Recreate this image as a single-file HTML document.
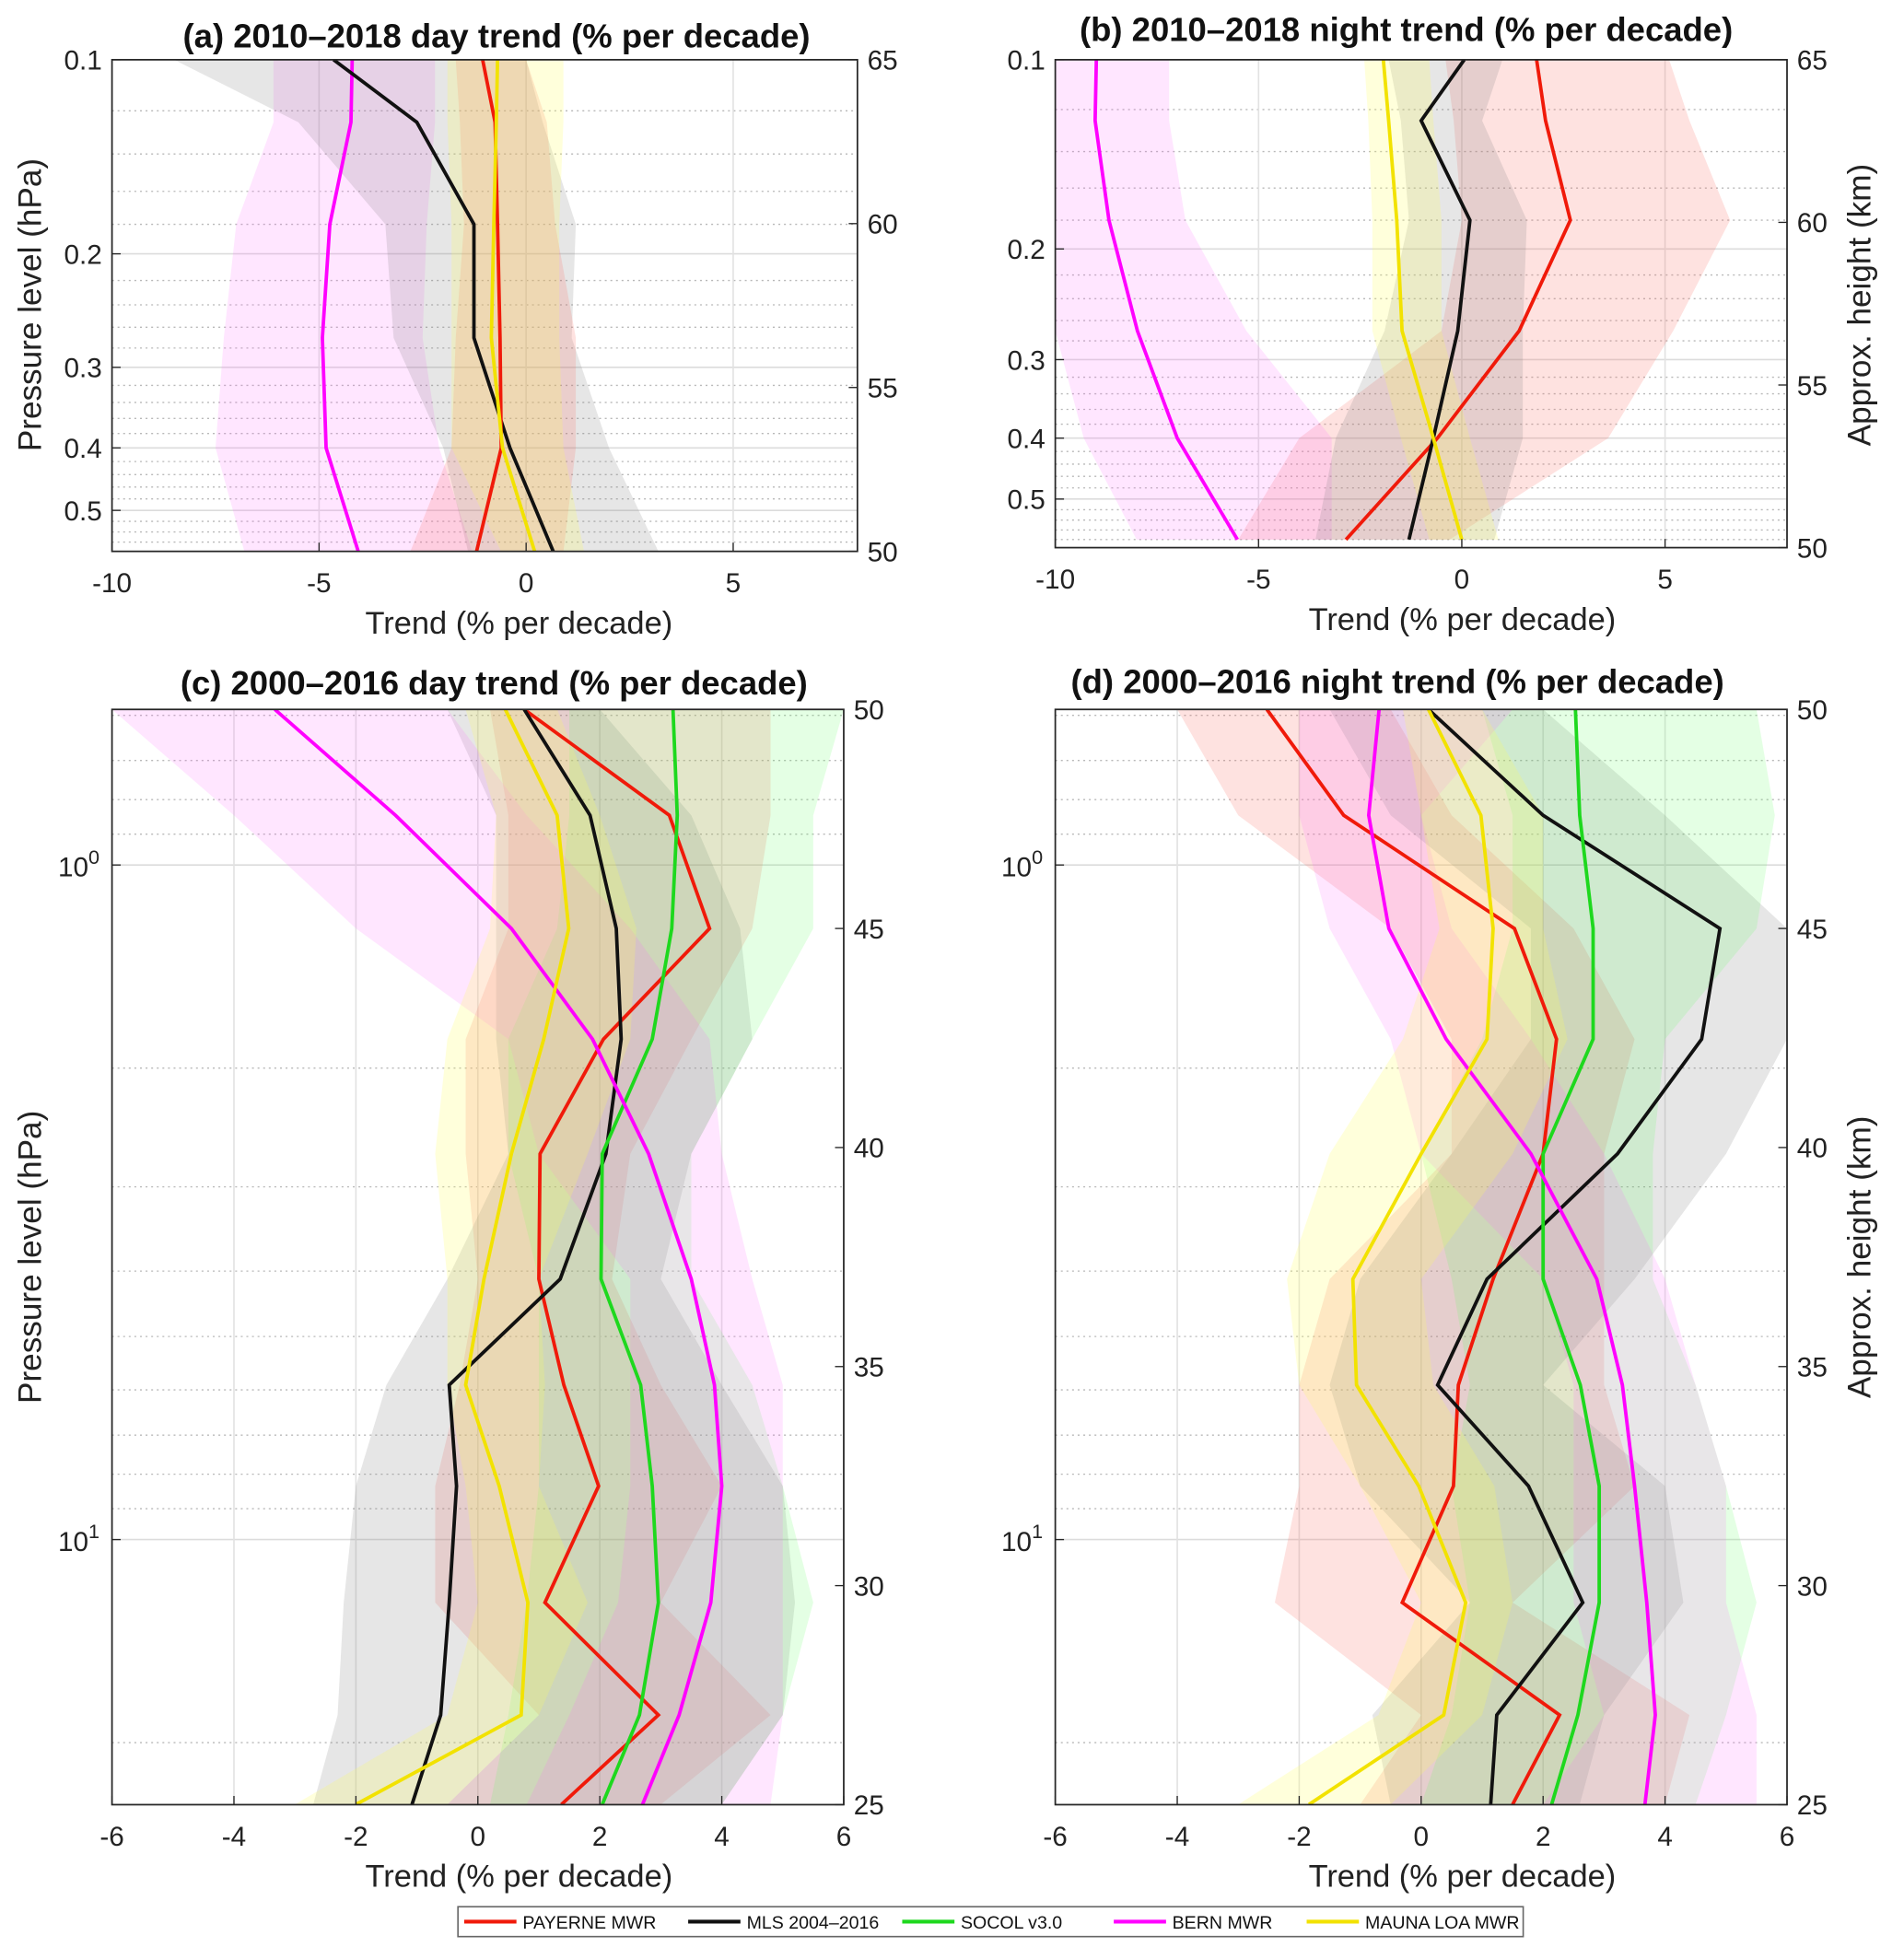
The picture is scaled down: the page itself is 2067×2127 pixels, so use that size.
<!DOCTYPE html>
<html><head><meta charset="utf-8"><title>Ozone trends</title>
<style>html,body{margin:0;padding:0;background:#fff}svg{display:block;font-family:"Liberation Sans",Arial,sans-serif}</style>
</head><body>
<svg id="fig" width="2067" height="2127" viewBox="0 0 1530 1574" preserveAspectRatio="none" xmlns="http://www.w3.org/2000/svg"></svg>
<script>
// ---------- DATA ----------
const levelsAB = [0.1, 0.125, 0.18, 0.27, 0.4, 0.58];
const levelsCD = [0.588, 0.844, 1.242, 1.812, 2.68, 4.11, 5.9, 8.33, 12.4, 18.2, 24.7];
const seriesNames = ['PAYERNE MWR','MLS 2004–2016','SOCOL v3.0','BERN MWR','MAUNA LOA MWR'];

// Panel a
const aRed = [-1.05,-0.75,-0.69,-0.63,-0.6,-1.2];
const aRedLo = [-1.7,-1.6,-1.5,-1.7,-1.8,-2.8];
const aRedHi = [0.0,0.5,0.7,1.2,1.2,0.9];
const aBlack = [-4.65,-2.64,-1.26,-1.26,-0.39,0.66];
const aBlackLo = [-8.5,-5.5,-3.4,-3.2,-2.0,-1.4];
const aBlackHi = [0.0,0.4,1.2,1.1,2.0,3.2];
const aMag = [-4.2,-4.23,-4.74,-4.92,-4.83,-4.05];
const aMagLo = [-6.1,-6.1,-7.0,-7.3,-7.5,-6.8];
const aMagHi = [-2.2,-2.2,-2.4,-2.5,-2.1,-1.3];
const aYel = [-0.69,-0.72,-0.78,-0.84,-0.57,0.21];
const aYelLo = [-1.9,-1.9,-1.8,-1.8,-1.8,-0.6];
const aYelHi = [0.9,0.9,0.8,0.8,0.9,1.4];

// Panel b
const bRed = [1.84,2.06,2.67,1.41,-0.6,-2.85];
const bRedLo = [-0.4,-0.2,0.0,-0.5,-4.0,-5.5];
const bRedHi = [5.1,5.6,6.6,5.2,3.6,-0.3];
const bBlack = [0.06,-1.0,0.2,-0.1,-0.7,-1.3];
const bBlackLo = [-1.8,-1.5,-1.3,-1.9,-3.1,-3.6];
const bBlackHi = [1.0,0.5,1.6,1.5,1.5,0.8];
const bMag = [-8.99,-9.02,-8.68,-7.98,-7.0,-5.52];
const bMagLo = [-10,-10,-10,-10,-9.3,-8.0];
const bMagHi = [-7.2,-7.2,-6.8,-5.3,-3.2,-3.2];
const bYel = [-1.93,-1.8,-1.6,-1.47,-0.7,0.0];
const bYelLo = [-2.4,-2.3,-2.2,-2.2,-1.5,-0.8];
const bYelHi = [-0.8,-0.7,-0.5,-0.5,0.2,0.9];

// Panel c
const cRed = [0.76,3.14,3.8,2.06,1.02,1.0,1.41,1.98,1.1,2.96,1.37];
const cRedLo = [0.2,0.5,0.5,-0.2,-0.2,0.0,-0.3,-0.7,-0.7,1.0,-0.5];
const cRedHi = [4.8,4.8,4.5,3.5,2.5,2.2,3.0,4.0,3.0,4.8,3.0];
const cBlack = [0.76,1.84,2.27,2.35,2.1,1.35,-0.47,-0.35,-0.47,-0.61,-1.08];
const cBlackLo = [-0.5,0.3,0.3,0.3,0.5,-0.5,-1.5,-2.0,-2.2,-2.3,-2.7];
const cBlackHi = [2.0,3.5,4.3,4.5,3.5,3.0,4.0,5.0,5.2,5.0,4.0];
const cGreen = [3.2,3.27,3.18,2.86,2.04,2.02,2.67,2.86,2.96,2.65,2.04];
const cGreenLo = [1.5,1.5,1.3,0.5,0.5,1.0,1.0,1.0,0.8,0.5,0.2];
const cGreenHi = [6.0,5.5,5.5,4.5,3.5,3.5,4.5,5.0,5.5,5.0,4.0];
const cMag = [-3.33,-1.35,0.55,1.88,2.8,3.5,3.88,4.0,3.82,3.3,2.7];
const cMagLo = [-6.0,-4.0,-2.0,0.5,1.0,2.5,2.5,2.5,2.3,1.5,0.8];
const cMagHi = [-0.5,0.8,2.5,3.8,4.0,4.5,5.0,5.0,5.0,5.0,4.8];
const cYel = [0.45,1.3,1.49,1.08,0.55,0.1,-0.2,0.35,0.82,0.71,-2.0];
const cYelLo = [-0.2,0.3,0.2,-0.5,-0.7,-0.5,-0.5,-0.2,0.0,-0.5,-3.0];
const cYelHi = [1.3,2.0,2.6,2.5,1.8,1.0,1.1,1.0,1.8,1.0,-0.5];

// Panel d
const dRed = [-2.53,-1.27,1.53,2.22,2.0,1.18,0.61,0.53,-0.31,2.27,1.5];
const dRedLo = [-4.0,-3.0,-0.5,0.5,0.5,-1.5,-2.0,-2.0,-2.4,0.0,-1.0];
const dRedHi = [-0.5,0.5,2.5,3.5,3.0,3.0,3.0,3.5,1.5,4.4,4.0];
const dBlack = [0.12,2.0,4.9,4.6,3.22,1.08,0.27,1.76,2.65,1.24,1.14];
const dBlackLo = [-1.5,-0.5,1.8,1.8,0.5,-1.0,-1.5,-1.0,0.8,-0.8,-0.5];
const dBlackHi = [2.0,4.0,6.0,6.0,5.0,3.5,2.0,4.0,4.3,3.0,2.6];
const dGreen = [2.53,2.6,2.82,2.82,2.0,2.0,2.61,2.92,2.92,2.57,2.14];
const dGreenLo = [1.0,1.5,1.5,1.0,0.0,0.5,0.8,0.5,0.8,0.5,0.0];
const dGreenHi = [5.5,5.8,5.5,4.0,3.8,3.8,4.5,5.0,5.5,5.0,4.5];
const dMag = [-0.69,-0.86,-0.53,0.41,1.8,2.88,3.3,3.5,3.7,3.84,3.67];
const dMagLo = [-2.0,-2.0,-1.5,-0.5,0.0,2.0,2.5,2.5,2.5,3.0,2.0];
const dMagHi = [1.5,0.0,0.5,1.8,3.0,4.0,4.5,5.0,5.0,5.5,5.5];
const dYel = [0.12,0.98,1.18,1.08,0.0,-1.12,-1.06,-0.04,0.73,0.37,-1.84];
const dYelLo = [-0.3,0.0,0.3,-0.3,-1.5,-2.2,-2.0,-1.0,0.0,-0.7,-3.0];
const dYelHi = [1.0,2.0,2.0,2.4,1.5,0.0,0.2,1.2,1.5,1.0,-0.5];

// ---------- STYLE ----------
const lineCol = {red:'#f01a0a', black:'#111111', green:'#1ed81e', mag:'#ff00ff', yel:'#f2e200'};
const bandCol = {red:'rgba(250,110,100,0.2)', black:'rgba(120,120,120,0.19)', green:'rgba(90,255,90,0.16)', mag:'rgba(255,100,255,0.16)', yel:'rgba(255,255,90,0.22)'};

const NS='http://www.w3.org/2000/svg';
const svg=document.getElementById('fig');
function mk(tag, attrs, parent){const e=document.createElementNS(NS,tag);for(const k in attrs)e.setAttribute(k,attrs[k]);(parent||svg).appendChild(e);return e;}
function txt(s, attrs, parent){const e=mk('text',attrs,parent);e.textContent=s;return e;}

function panel(cfg){
  const g=mk('g',{});
  
  
  const X=v=>cfg.left+(v-cfg.xmin)/(cfg.xmax-cfg.xmin)*(cfg.right-cfg.left);
  const Y=p=>cfg.top+(Math.log10(p)-Math.log10(cfg.pTop))*cfg.pxDec;
  const clipId='clip-'+cfg.name;
  const defs=mk('defs',{},g);
  const cp=mk('clipPath',{id:clipId},defs);
  mk('rect',{x:cfg.left,y:cfg.top,width:cfg.right-cfg.left,height:cfg.bottom-cfg.top},cp);
  const grid=mk('g',{},g);
  
  
  cfg.minor.forEach(p=>{const y=Y(p);if(y>cfg.top+1&&y<cfg.bottom-1)mk('line',{x1:cfg.left,x2:cfg.right,y1:y,y2:y,stroke:'#b8b8b8','stroke-width':1,'stroke-dasharray':'1.5,3'},grid);});
  cfg.major.forEach(p=>{const y=Y(p);mk('line',{x1:cfg.left,x2:cfg.right,y1:y,y2:y,stroke:'#dcdcdc','stroke-width':1.2},grid);});
  cfg.xticks.forEach(v=>{const x=X(v);if(x>cfg.left+1&&x<cfg.right-1)mk('line',{x1:x,x2:x,y1:cfg.top,y2:cfg.bottom,stroke:'#e2e2e2','stroke-width':1.2},grid);});
  const data=mk('g',{'clip-path':'url(#'+clipId+')'},g);
  cfg.series.forEach(s=>{
    let pts=cfg.levels.map((p,i)=>X(s.lo[i])+','+Y(p));
    pts=pts.concat(cfg.levels.map((p,i)=>X(s.hi[i])+','+Y(p)).reverse());
    const b=mk('polygon',{points:pts.join(' '),fill:bandCol[s.c],stroke:'none'},data);
    
    
  });
  cfg.series.forEach(s=>{
    const l=mk('polyline',{points:cfg.levels.map((p,i)=>X(s.v[i])+','+Y(p)).join(' '),fill:'none',stroke:lineCol[s.c],'stroke-width':2.8,'stroke-linejoin':'miter'},data);
    
    
  });
  mk('rect',{x:cfg.left,y:cfg.top,width:cfg.right-cfg.left,height:cfg.bottom-cfg.top,fill:'none',stroke:'#262626','stroke-width':1.3},g);
  cfg.xticks.forEach(v=>{const x=X(v);
    mk('line',{x1:x,x2:x,y1:cfg.bottom,y2:cfg.bottom-7,stroke:'#262626'},g);
    const t=txt(v<0?'-'+Math.abs(v):String(v),{x:x,y:cfg.bottom+33,'font-size':22,'text-anchor':'middle',fill:'#222'},g);
    
    
  });
  const xl=txt('Trend (% per decade)',{x:cfg.xTitleX,y:cfg.bottom+66,'font-size':25.5,'text-anchor':'middle',fill:'#222'},g);
  
  
  cfg.yticks.forEach(t=>{const y=Y(t.p);
    mk('line',{x1:cfg.left,x2:cfg.left+7,y1:y,y2:y,stroke:'#262626'},g);
    let e;
    if(t.exp!==undefined){e=txt('',{x:cfg.left-10,y:y+9,'font-size':22,'text-anchor':'end',fill:'#222'},g);
      const a=mk('tspan',{},e);a.textContent='10';const b=mk('tspan',{dy:-10,'font-size':16},e);b.textContent=t.exp;}
    else e=txt(t.label,{x:cfg.left-8,y:y+8,'font-size':22,'text-anchor':'end',fill:'#222'},g);
    
    
  });
  cfg.km.forEach(k=>{const y=cfg.bottom-(k-cfg.kmBot)/(cfg.kmTop-cfg.kmBot)*(cfg.bottom-cfg.top);
    mk('line',{x1:cfg.right,x2:cfg.right-7,y1:y,y2:y,stroke:'#262626'},g);
    const e=txt(String(k),{x:cfg.right+8,y:y+8,'font-size':22,fill:'#222'},g);
    
    
  });
  const tt=txt(cfg.title,{x:cfg.titleX,y:cfg.titleY,'font-size':27,'font-weight':'bold','text-anchor':'middle',fill:'#111'},g);
  
  
}

const minorAB=[];for(let v=0.12;v<0.59;v+=0.02){const r=Math.round(v*100)/100;if([0.2,0.3,0.4,0.5].indexOf(r)<0)minorAB.push(r);}
const minorCD=[0.6,0.7,0.8,0.9,2,3,4,5,6,7,8,9,20];
const ticksAB=[{p:0.1,label:'0.1'},{p:0.2,label:'0.2'},{p:0.3,label:'0.3'},{p:0.4,label:'0.4'},{p:0.5,label:'0.5'}];
const ticksCD=[{p:1,exp:'0'},{p:10,exp:'1'}];

panel({name:'panel-a',left:90,right:689,top:48,bottom:443,xmin:-10,xmax:8,pTop:0.1,pxDec:518,levels:levelsAB,
  minor:minorAB,major:[0.2,0.3,0.4,0.5],xticks:[-10,-5,0,5],yticks:ticksAB,km:[65,60,55,50],kmTop:65,kmBot:50,
  title:'(a) 2010–2018 day  trend (% per decade)',titleX:399,titleY:38,xTitleX:417,
  series:[{c:'mag',v:aMag,lo:aMagLo,hi:aMagHi},{c:'black',v:aBlack,lo:aBlackLo,hi:aBlackHi},{c:'red',v:aRed,lo:aRedLo,hi:aRedHi},{c:'yel',v:aYel,lo:aYelLo,hi:aYelHi}]});
panel({name:'panel-b',left:848,right:1436,top:48,bottom:440,xmin:-10,xmax:8,pTop:0.1,pxDec:505,levels:levelsAB,
  minor:minorAB,major:[0.2,0.3,0.4,0.5],xticks:[-10,-5,0,5],yticks:ticksAB,km:[65,60,55,50],kmTop:65,kmBot:50,
  title:'(b) 2010–2018 night  trend (% per decade)',titleX:1130,titleY:33,xTitleX:1175,
  series:[{c:'red',v:bRed,lo:bRedLo,hi:bRedHi},{c:'mag',v:bMag,lo:bMagLo,hi:bMagHi},{c:'black',v:bBlack,lo:bBlackLo,hi:bBlackHi},{c:'yel',v:bYel,lo:bYelLo,hi:bYelHi}]});
panel({name:'panel-c',left:90,right:678,top:570,bottom:1450,xmin:-6,xmax:6,pTop:0.588,pxDec:542,levels:levelsCD,
  minor:minorCD,major:[1,10],xticks:[-6,-4,-2,0,2,4,6],yticks:ticksCD,km:[50,45,40,35,30,25],kmTop:50,kmBot:25,
  title:'(c)  2000–2016 day  trend (% per decade)',titleX:397,titleY:558,xTitleX:417,
  series:[{c:'red',v:cRed,lo:cRedLo,hi:cRedHi},{c:'black',v:cBlack,lo:cBlackLo,hi:cBlackHi},{c:'green',v:cGreen,lo:cGreenLo,hi:cGreenHi},{c:'mag',v:cMag,lo:cMagLo,hi:cMagHi},{c:'yel',v:cYel,lo:cYelLo,hi:cYelHi}]});
panel({name:'panel-d',left:848,right:1436,top:570,bottom:1450,xmin:-6,xmax:6,pTop:0.588,pxDec:542,levels:levelsCD,
  minor:minorCD,major:[1,10],xticks:[-6,-4,-2,0,2,4,6],yticks:ticksCD,km:[50,45,40,35,30,25],kmTop:50,kmBot:25,
  title:'(d)  2000–2016  night  trend (% per decade)',titleX:1123,titleY:557,xTitleX:1175,
  series:[{c:'red',v:dRed,lo:dRedLo,hi:dRedHi},{c:'black',v:dBlack,lo:dBlackLo,hi:dBlackHi},{c:'green',v:dGreen,lo:dGreenLo,hi:dGreenHi},{c:'mag',v:dMag,lo:dMagLo,hi:dMagHi},{c:'yel',v:dYel,lo:dYelLo,hi:dYelHi}]});

function rotLabel(s,x,y,name){const e=txt(s,{x:x,y:y,'font-size':26,'text-anchor':'middle',fill:'#222',transform:'rotate(-90 '+x+' '+y+')'});
  }
rotLabel('Pressure level (hPa)',33,245,'y-axis-title-top');
rotLabel('Pressure level (hPa)',33,1010,'y-axis-title-bottom');
rotLabel('Approx. height (km)',1503,245,'right-axis-title-top');
rotLabel('Approx. height (km)',1503,1010,'right-axis-title-bottom');

const lg=mk('g',{});


mk('rect',{x:368,y:1532,width:856,height:24,fill:'#fff',stroke:'#666','stroke-width':1.2},lg);
const legX=[373,553,725,895,1050];
const legC=['red','black','green','mag','yel'];
seriesNames.forEach((n,i)=>{
  mk('line',{x1:legX[i],x2:legX[i]+42,y1:1544,y2:1544,stroke:lineCol[legC[i]],'stroke-width':3},lg);
  const t=txt(n,{x:legX[i]+47,y:1549.5,'font-size':14.5,fill:'#111'},lg);
  
  
});
</script>
</body></html>
